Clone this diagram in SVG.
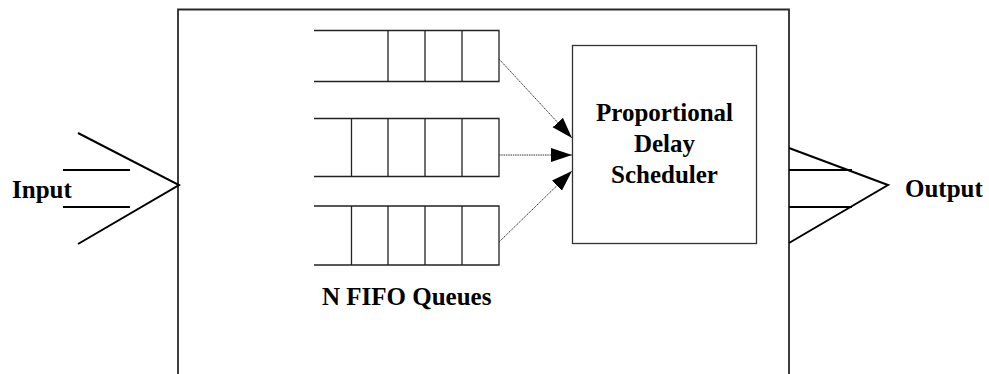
<svg xmlns="http://www.w3.org/2000/svg" width="989" height="374" viewBox="0 0 989 374">
<style>
.lbl{font-family:"Liberation Serif","Times New Roman",serif;font-weight:bold;font-size:25px;fill:#000}
.q{fill:none;stroke:#222;stroke-width:1.3}
.io{fill:none;stroke:#000;stroke-width:2}
.conn{fill:none;stroke:#333;stroke-width:1;stroke-dasharray:1.5 0.8}
</style>
<defs>
<marker id="ah" markerUnits="userSpaceOnUse" markerWidth="22" markerHeight="16" refX="21" refY="7" orient="auto">
<path d="M0,0 L21,7 L0,14 Z" fill="#000"/>
</marker>
</defs>
<rect width="989" height="374" fill="#fff"/>
<g id="system">
<path d="M178,380 V9.5 H789 V380" fill="none" stroke="#2a2a2a" stroke-width="1.8"/>
</g>
<g id="input">
<path class="io" d="M78,133 L179,185 L78,244 M63,170 H130 M63,207 H130"/>
<text class="lbl" x="12" y="198">Input</text>
</g>
<g id="queue1">
<path class="q" d="M314,30.5 H499 V81.5 H314 M388,30.5 V81.5 M425,30.5 V81.5 M462,30.5 V81.5"/>
</g>
<g id="queue2">
<path class="q" d="M314,118.5 H499 V176.5 H314 M351.5,118.5 V176.5 M388,118.5 V176.5 M425,118.5 V176.5 M462,118.5 V176.5"/>
</g>
<g id="queue3">
<path class="q" d="M314,206 H499 V265 H314 M351.5,206 V265 M388,206 V265 M425,206 V265 M462,206 V265"/>
<text class="lbl" x="322" y="305">N FIFO Queues</text>
</g>
<g id="scheduler">
<rect x="572.5" y="45.5" width="184" height="198" fill="none" stroke="#333" stroke-width="1.3"/>
<text class="lbl" x="664.5" text-anchor="middle"><tspan x="664.5" y="121">Proportional</tspan><tspan x="664.5" y="152">Delay</tspan><tspan x="664.5" y="183">Scheduler</tspan></text>
</g>
<g id="output">
<path class="io" d="M789,148 L888,185 L789,243 M789,170 H852 M789,207 H852"/>
<text class="lbl" x="905" y="197">Output</text>
</g>
<g id="connectors">
<line class="conn" x1="499" y1="59" x2="572" y2="138" marker-end="url(#ah)"/>
<line class="conn" x1="499" y1="155" x2="572" y2="155" marker-end="url(#ah)"/>
<line class="conn" x1="499" y1="242" x2="572" y2="171" marker-end="url(#ah)"/>
</g>
</svg>
